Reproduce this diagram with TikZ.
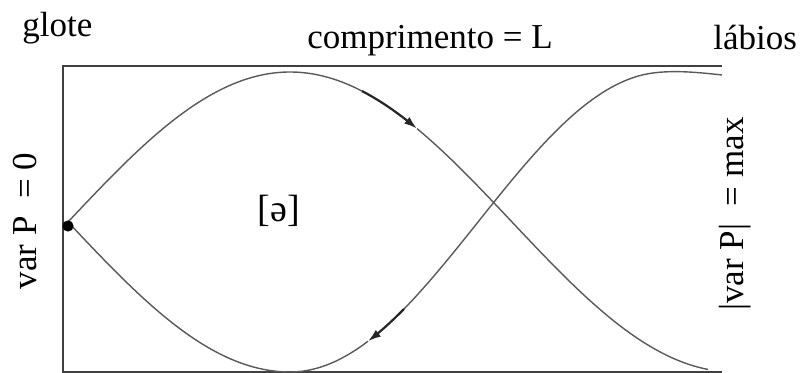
\documentclass[tikz,border=0pt]{standalone}
\usepackage{fontspec}
\setmainfont{Liberation Serif}
\usetikzlibrary{arrows.meta}

\begin{document}
\begin{tikzpicture}[x=0.5pt, y=-0.5pt, >={Latex[length=6.5pt,width=4.2pt]},
        lbl/.style={font=\fontsize{17.5}{20}\selectfont, inner sep=0pt},
        wall/.style={line width=1pt, black!75},
        wave/.style={line width=0.7pt, black!65},
        flow/.style={line width=1.1pt, black!85}]
        \useasboundingbox (0,0) rectangle (802,373);

        % tubo
        \draw[wall] (63,373) -- (63,66) -- (722,66);
        \draw[wall] (63,372) -- (722,372);

        % textos
        \node[lbl, anchor=base west] (glote) at (22,37) {glote};
        \node[lbl, anchor=base west] (compr) at (307,49) {comprimento = L};
        \node[lbl, anchor=base west] (labios) at (713,50) {lábios};
        \node[lbl, anchor=base, rotate=90] (pzero) at (36,221) {var P\ \ = 0};
        \node[lbl, anchor=base, rotate=90] (pmax) at (743,214) {|var P|\ \ = max};
        \node[lbl, font=\fontsize{19}{20}\selectfont] (schwa) at (279,211) {[ə]};

        % onda 1
        \draw[wave] plot[domain=68:362, samples=60] (\x, {222-150*sin((\x-68)/222*90)});
        \draw[flow, ->] plot[domain=362:417, samples=12] (\x, {222-150*sin((\x-68)/222*90)});
        \draw[wave] plot[domain=417:708, samples=60] (\x, {222-150*sin((\x-68)/222*90)});

        % onda 2
        \draw[wave] plot[domain=68:290, samples=50] (\x, {222+150*sin((\x-68)/222*90)});
        \draw[wave] plot[domain=290:368, samples=20] (\x, {222+150*cos((\x-290)/188*90)});
        \draw[flow, <-] plot[domain=368:404, samples=10] (\x, {222+150*cos((\x-290)/188*90)});
        \draw[wave] plot[domain=404:640, samples=60] (\x, {222+150*cos((\x-290)/188*90)})
            .. controls (665,69) and (695,72) .. (722,75);

        % glote fechada
        \fill (68,226) circle[radius=2.8pt];
    \end{tikzpicture}
\end{document}
